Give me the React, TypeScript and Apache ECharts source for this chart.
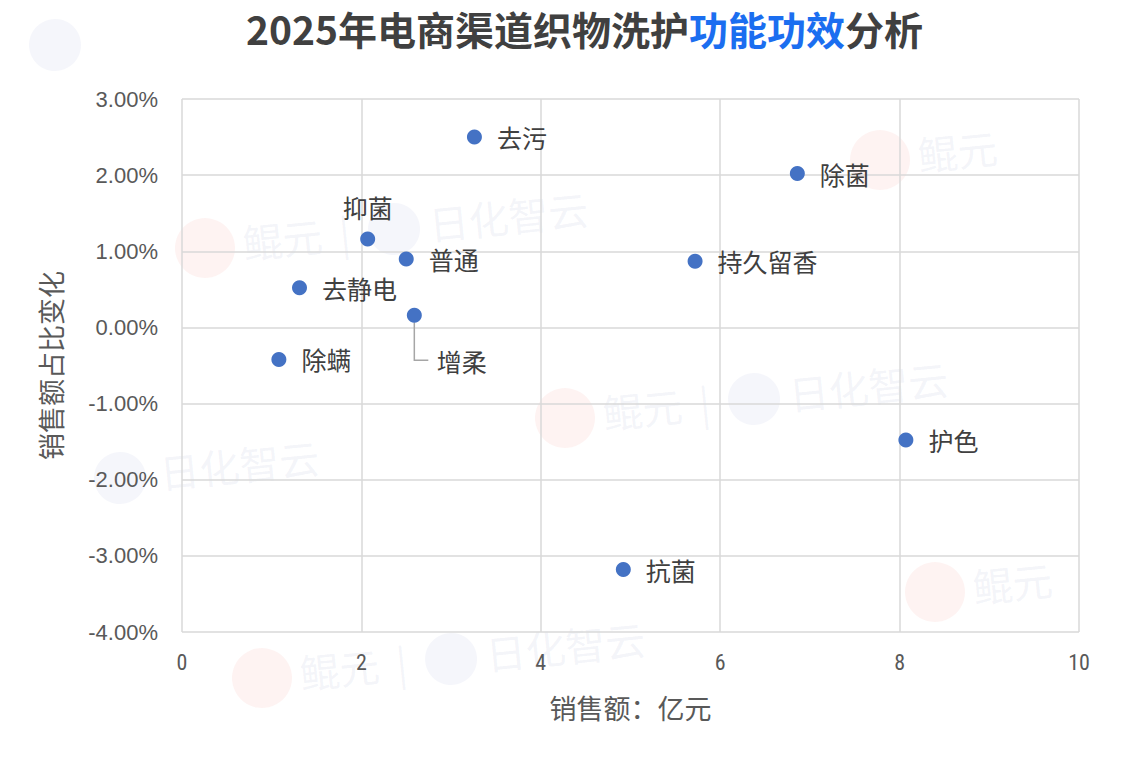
import React, { useEffect, useRef } from "react";
import * as echarts from "echarts";

const names = ["去污", "除菌", "抑菌", "普通", "持久留香", "去静电", "增柔", "除螨", "护色", "抗菌"];
const salesValues = [3.26, 6.86, 2.07, 2.5, 5.72, 1.31, 2.59, 1.08, 8.07, 4.92];
const shareChange = [2.5, 2.02, 1.16, 0.9, 0.87, 0.52, 0.16, -0.42, -1.48, -3.18];
const xTicks = { min: 0, max: 10, interval: 2 };
const yTicks = { min: -4, max: 3, interval: 1 };

const FONT = "Arial, 'Liberation Sans', 'Noto Sans CJK SC', sans-serif";
const NARROW = "'Liberation Sans Narrow', 'Arial Narrow', 'Roboto Condensed', Arial, sans-serif";
const CJK = "'Noto Sans CJK SC', 'Microsoft YaHei', sans-serif";

const WM_TEXT = "rgba(140,150,200,0.10)";
const WM_RED = "rgba(235,90,70,0.07)";
const WM_BLUE = "rgba(110,130,200,0.07)";

function wmPart(kind: string, x: number, y: number) {
  if (kind === "red") return { type: "circle", shape: { cx: x, cy: y, r: 30 }, style: { fill: WM_RED } };
  if (kind === "blue") return { type: "circle", shape: { cx: x, cy: y, r: 26 }, style: { fill: WM_BLUE } };
  return {
    type: "text",
    x,
    y: y - 22,
    style: { text: kind, font: "40px " + CJK, fill: WM_TEXT },
  };
}

function watermark(x: number, y: number, rot: number, parts: [string, number][]) {
  return {
    type: "group",
    x,
    y,
    rotation: rot,
    silent: true,
    z: -10,
    children: parts.map(([k, dx]) => wmPart(k, dx, 0)),
  };
}

const FULL: [string, number][] = [
  ["red", 0],
  ["鲲元", 38],
  ["|", 135],
  ["blue", 190],
  ["日化智云", 225],
];

const LEADER_NAME = "增柔";

export default function App() {
  const ref = useRef<HTMLDivElement>(null);
  useEffect(() => {
    if (!ref.current) return;
    const chart = echarts.init(ref.current, undefined, { renderer: "svg" });
    const data = names.map((n, i) => {
      const item: any = { name: n, value: [salesValues[i], shareChange[i]] };
      if (n === "抑菌") item.label = { position: "top", distance: 12 };
      return item;
    });
    const graphics: any[] = [
      watermark(205, 248, 0.1, FULL),
      watermark(565, 418, 0.1, FULL),
      watermark(262, 678, 0.1, FULL),
      watermark(880, 160, 0.1, [["red", 0], ["鲲元", 38]]),
      watermark(935, 592, 0.1, [["red", 0], ["鲲元", 38]]),
      watermark(120, 478, 0.1, [["blue", 0], ["日化智云", 40]]),
      watermark(55, 45, 0.1, [["blue", 0]]),
    ];
    chart.setOption({
      animation: false,
      backgroundColor: "#ffffff",
      title: {
        text: "{a|2025年电商渠道织物洗护}{b|功能功效}{a|分析}",
        left: 241,
        top: 3,
        textStyle: {
          rich: {
            a: { fontSize: 39, fontWeight: "bold", color: "#404040", fontFamily: CJK },
            b: { fontSize: 39, fontWeight: "bold", color: "#1b6ef0", fontFamily: CJK },
          },
        },
      },
      graphic: graphics,
      grid: { left: 182, right: 68, top: 99, bottom: 134 },
      xAxis: {
        type: "value",
        min: xTicks.min,
        max: xTicks.max,
        interval: xTicks.interval,
        name: "销售额：亿元",
        nameLocation: "middle",
        nameGap: 62,
        nameTextStyle: { fontSize: 27, color: "#595959", fontFamily: CJK },
        axisLine: { show: false, onZero: false },
        axisTick: { show: false },
        axisLabel: { fontSize: 22, color: "#595959", margin: 19, fontFamily: NARROW },
        splitLine: { show: true, lineStyle: { color: "#d9d9d9", width: 1.5 } },
      },
      yAxis: {
        type: "value",
        min: yTicks.min,
        max: yTicks.max,
        interval: yTicks.interval,
        name: "销售额占比变化",
        nameLocation: "middle",
        nameRotate: 90,
        nameGap: 118,
        nameTextStyle: { fontSize: 27, color: "#595959", fontFamily: CJK },
        axisLine: { show: false },
        axisTick: { show: false },
        axisLabel: {
          fontSize: 22,
          color: "#595959",
          margin: 24,
          fontFamily: FONT,
          formatter: (v: number) => v.toFixed(2) + "%",
        },
        splitLine: { show: true, lineStyle: { color: "#d9d9d9", width: 1.5 } },
      },
      series: [
        {
          type: "scatter",
          symbolSize: 15,
          itemStyle: { color: "#4472c4", opacity: 1 },
          data,
          label: {
            show: true,
            position: "right",
            distance: 15,
            formatter: "{b}",
            fontSize: 25,
            color: "#404040",
            fontFamily: CJK,
          },
          labelLayout: (p: any) =>
            names[p.dataIndex] === LEADER_NAME ? { dx: 0, dy: 46 } : {},
          z: 5,
        },
      ],
    });
    const li = names.indexOf(LEADER_NAME);
    const p = chart.convertToPixel({ seriesIndex: 0 }, [salesValues[li], shareChange[li]]) as number[];
    if (p) {
      chart.setOption({
        graphic: [
          ...graphics,
          {
            type: "polyline",
            silent: true,
            z: 4,
            shape: {
              points: [
                [p[0], p[1] + 7],
                [p[0], p[1] + 45],
                [p[0] + 14, p[1] + 45],
              ],
            },
            style: { stroke: "#a6a6a6", lineWidth: 1.5, fill: "none" },
          },
        ],
      });
    }
    return () => chart.dispose();
  }, []);
  return (
    <div
      ref={ref}
      style={{ position: "fixed", left: 0, top: 0, width: 1147, height: 766 }}
    />
  );
}
